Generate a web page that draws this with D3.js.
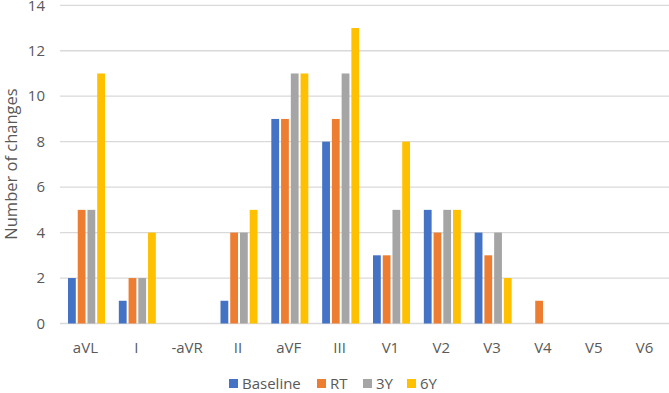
<!DOCTYPE html>
<html>
<head>
<meta charset="utf-8">
<script src="https://cdn.jsdelivr.net/npm/d3@7"></script>
<style>
  body { margin: 0; background: #fff; }
  svg { font-family: "Open Sans", "Noto Sans", sans-serif; }
</style>
</head>
<body>
<div id="chart"></div>
<script>

// chart data
const leads = ['aVL', 'I', '-aVR', 'II', 'aVF', 'III', 'V1', 'V2', 'V3', 'V4', 'V5', 'V6'];
const seriesNames = ['Baseline', 'RT', '3Y', '6Y'];
const baseline = [2, 1, 0, 1, 9, 8, 3, 5, 4, 0, 0, 0];
const rt       = [5, 2, 0, 4, 9, 9, 3, 4, 3, 1, 0, 0];
const y3       = [5, 2, 0, 4, 11, 11, 5, 5, 4, 0, 0, 0];
const y6       = [11, 4, 0, 5, 11, 13, 8, 5, 2, 0, 0, 0];
const yTicks = [0, 2, 4, 6, 8, 10, 12, 14];

const colors = ['#4472C4', '#ED7D31', '#A5A5A5', '#FFC000'];

var width = 669;
var height = 393;
var margin = { top: 5, right: 0, bottom: 70, left: 60 };

var svg = d3.select('#chart').append('svg')
    .attr('width', width)
    .attr('height', height);

var x = d3.scaleBand()
    .domain(leads)
    .range([margin.left, width + 1])
    .paddingInner(0)
    .paddingOuter(0);

var x1 = d3.scaleBand()
    .domain(seriesNames)
    .range([0, 37])
    .paddingInner(0.2);

var y = d3.scaleLinear()
    .domain([0, 14])
    .range([323.5, 5.3]);

// gridlines
svg.append('g')
    .selectAll('line')
    .data(yTicks)
    .enter()
    .append('line')
    .attr('x1', margin.left)
    .attr('x2', width)
    .attr('y1', d => y(d))
    .attr('y2', d => y(d))
    .attr('stroke', '#d9d9d9')
    .attr('stroke-width', 1.3);

// y labels
svg.append('g')
    .selectAll('text')
    .data(yTicks)
    .enter()
    .append('text')
    .attr('x', 45)
    .attr('y', d => y(d))
    .attr('dy', '0.35em')
    .attr('text-anchor', 'end')
    .attr('fill', '#595959')
    .style('font-size', '15px')
    .text(d => d);

svg.append('text')
    .attr('transform', 'translate(17,' + 164 + ') rotate(-90)')
    .attr('text-anchor', 'middle')
    .attr('fill', '#595959')
    .style('font-size', '16.5px')
    .text('Number of changes');

// bars
var table = leads.map((lead, i) => ({
    lead: lead,
    values: [baseline[i], rt[i], y3[i], y6[i]]
}));

var groups = svg.append('g')
    .selectAll('g')
    .data(table)
    .enter()
    .append('g')
    .attr('transform', d => 'translate(' + (x(d.lead) + 8) + ',0)');

groups.selectAll('rect')
    .data(d => d.values.map((v, j) => ({ name: seriesNames[j], value: v, color: colors[j] })))
    .enter()
    .append('rect')
    .attr('x', d => x1(d.name))
    .attr('width', x1.bandwidth())
    .attr('y', d => y(d.value))
    .attr('height', d => y(0) - y(d.value))
    .attr('fill', d => d.color);

// x labels
svg.append('g')
    .selectAll('text')
    .data(leads)
    .enter()
    .append('text')
    .attr('x', d => x(d) + x.bandwidth() / 2)
    .attr('y', 353)
    .attr('text-anchor', 'middle')
    .attr('fill', '#595959')
    .style('font-size', '15px')
    .text(d => d);

// legend
var legendX = [229, 317, 363, 407];
var legend = svg.append('g')
    .selectAll('g')
    .data(seriesNames)
    .enter()
    .append('g')
    .attr('transform', (d, i) => 'translate(' + legendX[i] + ',379)');

legend.append('rect')
    .attr('width', 9)
    .attr('height', 9)
    .attr('fill', (d, i) => colors[i]);

legend.append('text')
    .attr('x', 13)
    .attr('y', 9.5)
    .attr('fill', '#595959')
    .style('font-size', '15px')
    .text(d => d);

</script>
</body>
</html>
